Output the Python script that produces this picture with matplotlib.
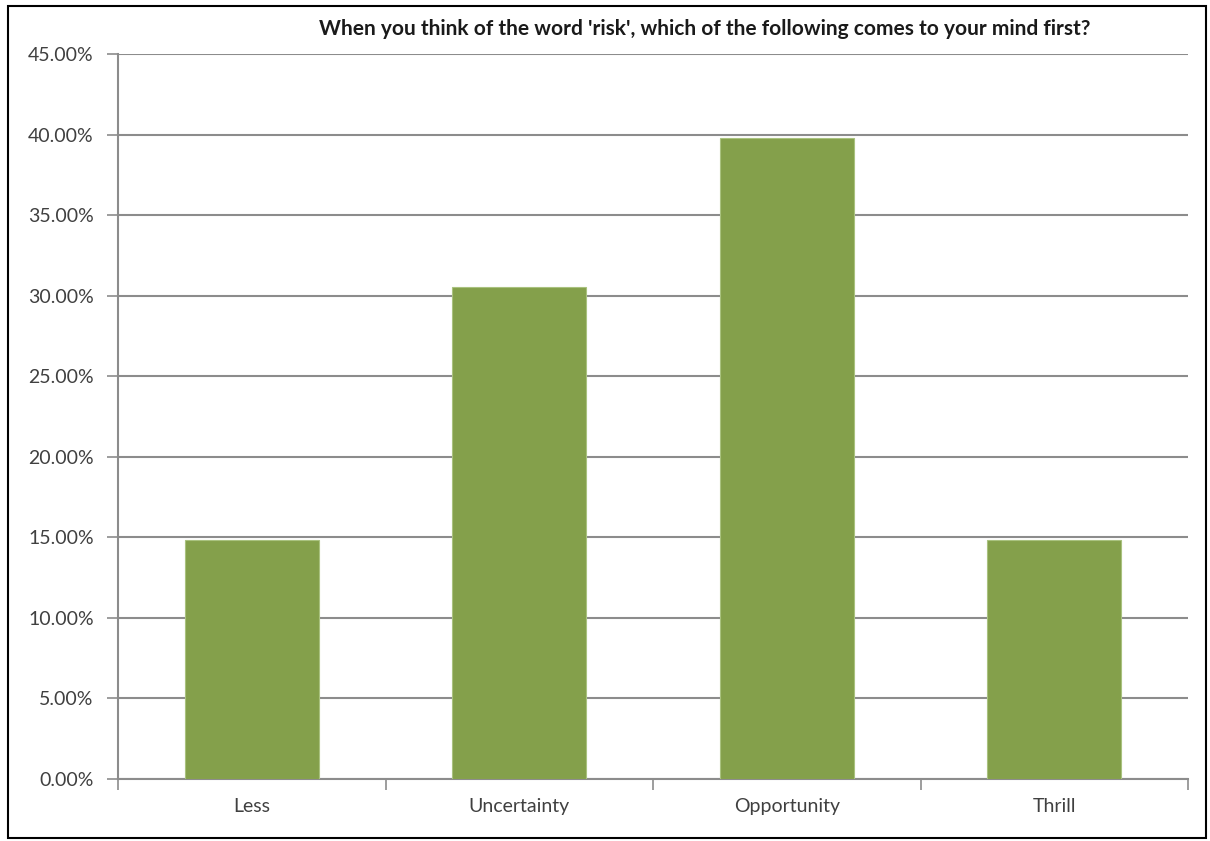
import matplotlib
matplotlib.use("Agg")
import matplotlib.pyplot as plt
from matplotlib.ticker import FuncFormatter, FixedLocator
from matplotlib.patches import Rectangle

categories = ["Less", "Uncertainty", "Opportunity", "Thrill"]
values = [14.81, 30.56, 39.81, 14.81]
title = "When you think of the word 'risk', which of the following comes to your mind first?"

plt.rcParams['font.family'] = ['Lato', 'DejaVu Sans']

fig = plt.figure(figsize=(12.1, 8.41), dpi=100)
ax = fig.add_axes([118/1210, 1-779/841, (1188-118)/1210, (779-54)/841])

x = list(range(len(categories)))
ax.bar(x, values, width=0.5, color='#84a04b', edgecolor='#a9c27f', linewidth=0.8, zorder=3)

ax.set_xlim(-0.5, len(categories) - 0.5)
ax.set_ylim(0, 45)
ax.set_yticks([i * 5 for i in range(10)])
ax.yaxis.set_major_formatter(FuncFormatter(lambda v, p: f"{v:.2f}%"))
ax.grid(axis='y', color='#8c8c8c', linewidth=1.5, zorder=0)

ax.set_xticks(x)
ax.set_xticklabels(categories)
ax.xaxis.set_minor_locator(FixedLocator([i - 0.5 for i in range(len(categories) + 1)]))
ax.tick_params(axis='x', which='major', length=0, pad=14, labelsize=14, labelcolor='#404040')
ax.tick_params(axis='x', which='minor', length=8, width=1.2, color='#8c8c8c', direction='out')
ax.tick_params(axis='y', length=8, width=1.2, color='#8c8c8c', direction='out', pad=9.5,
               labelsize=14, labelcolor='#404040')

for s in ['top', 'right']:
    ax.spines[s].set_visible(False)
for s in ['left', 'bottom']:
    ax.spines[s].set_color('#8c8c8c')
    ax.spines[s].set_linewidth(1.5)

fig.text(705/1210, 1-29/841, title, ha='center', va='center', fontsize=15, fontweight='bold', color='#1a1a1a')

fig.patches.append(Rectangle((8/1210, 1-838/841), (1206-8)/1210, (838-6)/841,
                             transform=fig.transFigure, fill=False, edgecolor='black', linewidth=1.5))

fig.savefig("out.png", dpi=100)
